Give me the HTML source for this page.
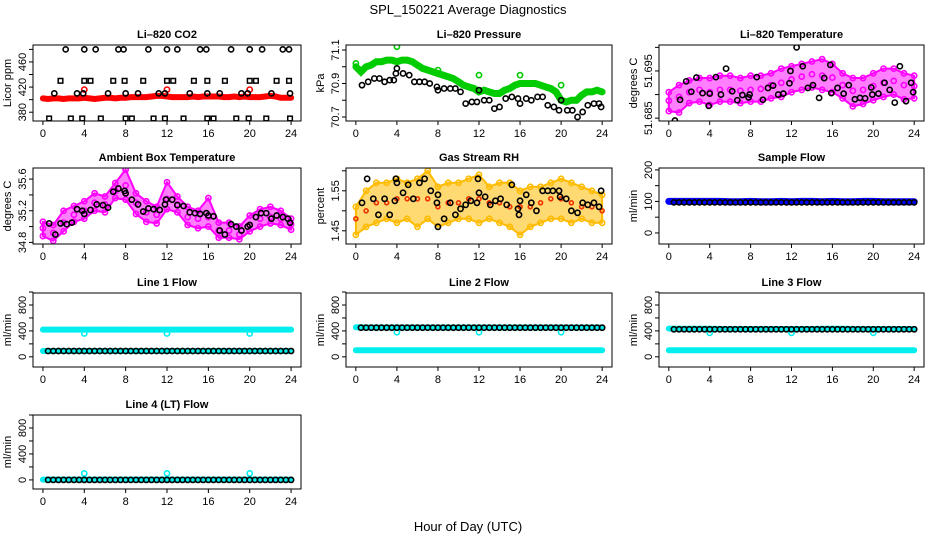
<!DOCTYPE html>
<html><head><meta charset="utf-8"><style>
html,body{margin:0;padding:0;background:#fff;}
svg{display:block;font-family:"Liberation Sans",Arial,sans-serif;}
</style></head><body>
<svg id="chart" width="936" height="540" viewBox="0 0 936 540" xmlns="http://www.w3.org/2000/svg">
<rect x="0" y="0" width="936" height="540" fill="#fff"/>
<text x="468" y="14" text-anchor="middle" font-size="13">SPL_150221  Average Diagnostics</text>
<text x="468" y="531" text-anchor="middle" font-size="13">Hour of Day (UTC)</text>
</svg>
<script>
// ---------- data ----------
const xTicks = [0,4,8,12,16,20,24];
const hours25 = [0,1,2,3,4,5,6,7,8,9,10,11,12,13,14,15,16,17,18,19,20,21,22,23,24];
const half49 = [0,0.5,1,1.5,2,2.5,3,3.5,4,4.5,5,5.5,6,6.5,7,7.5,8,8.5,9,9.5,10,10.5,11,11.5,12,12.5,13,13.5,14,14.5,15,15.5,16,16.5,17,17.5,18,18.5,19,19.5,20,20.5,21,21.5,22,22.5,23,23.5,24];
const half48 = [0.5,1,1.5,2,2.5,3,3.5,4,4.5,5,5.5,6,6.5,7,7.5,8,8.5,9,9.5,10,10.5,11,11.5,12,12.5,13,13.5,14,14.5,15,15.5,16,16.5,17,17.5,18,18.5,19,19.5,20,20.5,21,21.5,22,22.5,23,23.5,24];
const outT = [4,12,20];

// CO2
const co2Red = [402,401,402,402,401,402,402,402,403,402,401,402,403,403,402,403,403,404,404,404,404,405,406,406,405,404,404,404,404,405,404,405,405,405,405,404,404,405,404,405,404,404,404,405,406,405,403,403,403];
const co2RedOut = [416,416,416];
const co2HiT = [2.2,4,5.1,7.3,7.8,10.2,12,13,15.2,15.8,18.2,20,21.2,23.2,23.8];
const co2Hi = [480,480,480,480,480,480,480,480,480,480,480,480,480,480,480];
const co2SqT = [1.7,4,4.6,6.8,7.9,9.7,12,12.6,14.6,15.9,17.6,20,20.6,22.6,23.8];
const co2Sq = [430,430,430,430,430,430,430,430,430,430,430,430,430,430,430];
const co2MidT = [1.1,3.3,3.9,6.3,8,9.2,11.2,11.8,14.2,15.9,17.1,19.2,19.8,22.1,23.9];
const co2Mid = [410,410,410,410,410,410,410,410,410,410,410,410,410,410,410];
const co2LoT = [0.6,2.7,3.8,5.6,8,8.6,10.7,11.8,13.6,15.9,16.5,18.7,19.9,21.6,23.9];
const co2Lo = [370,370,370,370,370,370,370,370,370,370,370,370,370,370,370];

// Pressure
const presGreen = [71.0,70.97,71.0,71.01,71.03,71.03,71.04,71.04,71.03,71.04,71.04,71.03,71.01,70.99,70.98,70.97,70.96,70.95,70.94,70.93,70.91,70.89,70.88,70.87,70.85,70.86,70.85,70.84,70.84,70.86,70.87,70.89,70.9,70.9,70.9,70.9,70.89,70.88,70.87,70.85,70.8,70.79,70.8,70.8,70.83,70.85,70.85,70.86,70.85];
const presGreenOutT = [0,4,8,12,16,20];
const presGreenOut = [71.02,71.12,70.98,70.95,70.95,70.89];
const presBlackT = [0.6,1.2,1.8,2.3,2.8,3.3,3.7,3.9,4,4.6,5.2,5.7,6.2,6.7,7.2,7.9,8,8.6,9.2,9.7,10.2,10.7,11.3,11.8,12,12.5,13,13.5,14,14.6,15.2,15.8,16,16.6,17.1,17.7,18.2,18.7,19.3,19.8,20,20.6,21.1,21.6,22.1,22.6,23.2,23.7,23.9];
const presBlack = [70.89,70.91,70.93,70.93,70.91,70.92,70.92,70.96,70.99,70.96,70.95,70.91,70.91,70.91,70.9,70.88,70.86,70.87,70.87,70.87,70.85,70.78,70.79,70.79,70.86,70.8,70.8,70.75,70.76,70.81,70.82,70.81,70.78,70.81,70.8,70.82,70.82,70.77,70.76,70.74,70.8,70.74,70.74,70.7,70.73,70.77,70.78,70.78,70.76];

// Li-820 temperature
const tempMid = [51.6887,51.6895,51.6905,51.691,51.6905,51.691,51.691,51.6908,51.691,51.6912,51.692,51.6925,51.6932,51.6938,51.6943,51.694,51.6936,51.692,51.6908,51.691,51.6918,51.6925,51.6929,51.692,51.6918];
const tempHi = [51.6905,51.692,51.693,51.6935,51.6935,51.694,51.694,51.6935,51.694,51.694,51.6945,51.6955,51.696,51.6965,51.697,51.6975,51.6965,51.6945,51.6935,51.6935,51.6945,51.6955,51.6955,51.6945,51.694];
const tempLo = [51.6865,51.6862,51.6882,51.6885,51.6878,51.6885,51.6885,51.6882,51.6885,51.6885,51.6892,51.6895,51.6905,51.691,51.6915,51.691,51.6905,51.6892,51.6875,51.688,51.6888,51.6895,51.69,51.689,51.6892];
const tempBlackT = [0.6,1.1,1.7,2.2,2.7,3.3,3.9,4,4.6,5.1,5.6,6.2,6.7,7.2,7.8,7.9,8.6,9.2,9.7,10.2,10.7,11.2,11.8,11.9,12.5,13.1,13.6,14.1,14.7,15.2,15.8,15.9,16.5,17.1,17.6,18.2,18.7,19.2,19.8,19.9,20.5,21.1,21.6,22.1,22.6,23.2,23.7,23.9];
const tempBlack = [51.6845,51.6889,51.6928,51.6906,51.6936,51.6903,51.6876,51.6902,51.6937,51.6900,51.6955,51.6907,51.6888,51.6899,51.6894,51.6900,51.6937,51.6889,51.6914,51.6919,51.6900,51.6902,51.6924,51.6950,51.7,51.6960,51.6914,51.6920,51.6893,51.6935,51.6963,51.6903,51.6914,51.6902,51.6920,51.6890,51.6893,51.6892,51.6915,51.6900,51.6902,51.6925,51.6910,51.6883,51.6960,51.6886,51.6925,51.6905];

// Ambient box temperature
const ambMid = [34.98,34.92,35.05,35.15,35.2,35.3,35.28,35.45,35.52,35.3,35.18,35.15,35.35,35.28,35.12,35.1,35.12,34.95,34.95,34.9,35.02,35.1,35.12,35.1,35.03];
const ambHi = [35.06,35.02,35.2,35.26,35.32,35.42,35.38,35.55,35.72,35.42,35.32,35.25,35.56,35.38,35.25,35.2,35.36,35.05,35.05,35.0,35.14,35.22,35.25,35.2,35.1];
const ambLo = [34.88,34.82,34.94,35.06,35.1,35.2,35.18,35.36,35.34,35.16,35.06,35.04,35.22,35.18,35.02,34.98,35.0,34.86,34.86,34.84,34.94,35.0,35.04,35.02,34.96];
const ambBlackT = [0.6,1.2,1.7,2.3,2.8,3.3,3.8,4,4.6,5.2,5.8,6.3,6.8,7.3,7.9,8,8.6,9.2,9.7,10.2,10.7,11.3,11.8,11.9,12.5,13,13.6,14.2,14.7,15.2,15.8,16,16.5,17.1,17.6,18.2,18.7,19.2,19.8,20,20.6,21.1,21.6,22.1,22.6,23.2,23.7,23.9];
const ambBlack = [35.04,34.9,35.04,35.03,35.05,35.22,35.2,35.16,35.21,35.28,35.27,35.24,35.44,35.48,35.45,35.42,35.34,35.28,35.19,35.23,35.22,35.21,35.28,35.34,35.34,35.27,35.26,35.18,35.17,35.16,35.17,35.14,35.13,34.95,34.9,35.03,35.0,34.95,35.0,35.02,35.12,35.17,35.17,35.1,35.14,35.12,35.1,35.05];

// Gas stream RH
const rhMid = [1.48,1.5,1.52,1.52,1.53,1.53,1.53,1.53,1.51,1.52,1.52,1.53,1.53,1.52,1.52,1.51,1.51,1.51,1.52,1.53,1.53,1.52,1.51,1.51,1.5];
const rhHi = [1.51,1.55,1.57,1.57,1.58,1.57,1.58,1.6,1.56,1.57,1.57,1.58,1.59,1.56,1.57,1.57,1.55,1.56,1.56,1.57,1.58,1.57,1.56,1.55,1.54];
const rhLo = [1.44,1.46,1.47,1.48,1.47,1.48,1.46,1.48,1.46,1.47,1.48,1.48,1.47,1.48,1.47,1.46,1.44,1.46,1.47,1.48,1.48,1.47,1.48,1.47,1.47];
const rhBlackT = [0.6,1.1,1.7,2.2,2.8,3.3,3.8,3.9,4,4.6,5.1,5.6,6.2,6.7,7.3,7.9,8,8,8.6,9.2,9.7,10.2,10.7,11.2,11.8,11.9,12,12.6,13.1,13.6,14.1,14.7,15.2,15.8,15.9,16,16.6,17.1,17.6,18.2,18.7,19.2,19.8,19.9,20.5,21,21.6,22.1,22.6,23.2,23.7,23.9];
const rhBlack = [1.52,1.58,1.53,1.49,1.53,1.49,1.525,1.58,1.57,1.545,1.565,1.53,1.57,1.58,1.55,1.52,1.54,1.46,1.48,1.52,1.49,1.505,1.515,1.525,1.52,1.58,1.545,1.535,1.515,1.525,1.53,1.515,1.565,1.505,1.49,1.525,1.54,1.52,1.5,1.55,1.55,1.55,1.55,1.535,1.53,1.5,1.495,1.52,1.515,1.52,1.51,1.55];

// Sample flow
const sampleBlue = [100,100,100,100,100,100,99,99,100,99,99,100,99,100,100,99,100,99,99,100,100,99,99,99,99];
const sampleBlack = [97,97,97,97,97,97,97,97,97,97,97,97,97,97,97,97,97,97,97,97,97,97,97,97,97,97,97,97,97,97,97,97,97,97,97,97,97,97,97,97,97,97,97,97,97,97,97,97];

// Line flows
const l1CyanHi = [420,420,420,420,420,420,420,420,420,420,420,420,420,420,420,420,420,420,420,420,420,420,420,420,420];
const l1CyanLo = [90,90,90,90,90,90,90,90,90,90,90,90,90,90,90,90,90,90,90,90,90,90,90,90,90];
const l1Black = [90,90,90,90,90,90,90,90,90,90,90,90,90,90,90,90,90,90,90,90,90,90,90,90,90,90,90,90,90,90,90,90,90,90,90,90,90,90,90,90,90,90,90,90,90,90,90,90];
const l1Out = [360,360,360];
const l2CyanHi = [455,452,452,452,452,452,452,452,452,452,452,452,452,452,452,452,452,452,452,452,452,452,452,452,452];
const l2CyanLo = [100,100,100,100,100,100,100,100,100,100,100,100,100,100,100,100,100,100,100,100,100,100,100,100,100];
const l2Black = [450,450,450,450,450,450,450,450,450,450,450,450,450,450,450,450,450,450,450,450,450,450,450,450,450,450,450,450,450,450,450,450,450,450,450,450,450,450,450,450,450,450,450,450,450,450,450,450];
const l2Out = [380,380,380];
const l3CyanHi = [435,432,432,432,432,430,430,430,430,430,430,430,430,430,430,432,432,432,430,430,430,430,430,430,430];
const l3CyanLo = [100,100,100,100,100,100,100,100,100,100,100,100,100,100,100,100,100,100,100,100,100,100,100,100,100];
const l3Black = [425,425,425,425,425,425,425,425,425,425,425,425,425,425,425,425,425,425,425,425,425,425,425,425,425,425,425,425,425,425,425,425,425,425,425,425,425,425,425,425,425,425,425,425,425,425,425,425];
const l3Out = [370,370,370];
const l4Cyan = [5,5,5,5,5,5,5,5,5,5,5,5,5,5,5,5,5,5,5,5,5,5,5,5,5];
const l4Black = [0,0,0,0,0,0,0,0,0,0,0,0,0,0,0,0,0,0,0,0,0,0,0,0,0,0,0,0,0,0,0,0,0,0,0,0,0,0,0,0,0,0,0,0,0,0,0,0];
const l4Out = [100,100,100];

// ---------- drawing ----------
const NS = "http://www.w3.org/2000/svg";
const svg = document.getElementById('chart');
function mk(tag, attrs, parent){
  const e = document.createElementNS(NS, tag);
  for (const k in attrs) e.setAttribute(k, attrs[k]);
  (parent || svg).appendChild(e);
  return e;
}
const colL = [33, 346, 659];
const colW = [268, 266, 265];
const rowT = [45, 168, 293, 415];
const rowH = [76, 76, 74, 74];

function panel(cfg){
  const L = colL[cfg.col], W = colW[cfg.col], T = rowT[cfg.row], H = rowH[cfg.row];
  const g = mk('g', {});
  
  
  const sx = t => L + (t + 0.96) / 25.92 * W;
  const sy = v => T + H - (v - cfg.ylim[0]) / (cfg.ylim[1] - cfg.ylim[0]) * H;
  const clip = 'clip-' + cfg.name;
  const cp = mk('clipPath', {id: clip}, g);
  mk('rect', {x: L, y: T, width: W, height: H}, cp);
  const plot = mk('g', {'clip-path': 'url(#' + clip + ')'}, g);
  
  
  cfg.series.forEach(s => {
    if (s.type === 'band') {
      let d = 'M';
      s.t.forEach((t, i) => { d += sx(t).toFixed(1) + ',' + sy(s.hi[i]).toFixed(1) + ' L'; });
      for (let i = s.t.length - 1; i >= 0; i--) d += sx(s.t[i]).toFixed(1) + ',' + sy(s.lo[i]).toFixed(1) + (i ? ' L' : ' Z');
      const p = mk('path', {d: d, fill: s.color, 'fill-opacity': s.op || 0.5, stroke: s.color, 'stroke-width': 2, 'stroke-linejoin': 'round'}, plot);
      
      
      if (s.dots) {
        s.t.forEach((t, i) => {
          [s.hi[i], s.lo[i]].forEach(v => {
            const c = mk('circle', {cx: sx(t), cy: sy(v), r: 2.6, fill: 'none', stroke: s.color, 'stroke-width': 1.6}, plot);
            
            
          });
        });
      }
    } else if (s.type === 'thick') {
      const pts = s.t.map((t, i) => sx(t).toFixed(1) + ',' + sy(s.v[i]).toFixed(1)).join(' ');
      const p = mk('polyline', {points: pts, fill: 'none', stroke: s.color, 'stroke-width': s.w || 6, 'stroke-linecap': 'round'}, plot);
      
      
    } else {
      const r = s.r || 2.6;
      s.t.forEach((t, i) => {
        let e;
        if (s.shape === 'square') e = mk('rect', {x: sx(t) - r, y: sy(s.v[i]) - r, width: 2 * r, height: 2 * r, fill: 'none', stroke: s.color, 'stroke-width': 1.5}, plot);
        else e = mk('circle', {cx: sx(t), cy: sy(s.v[i]), r: r, fill: 'none', stroke: s.color, 'stroke-width': s.sw || 1.6}, plot);
        
        
      });
    }
  });
  const box = mk('rect', {x: L, y: T, width: W, height: H, fill: 'none', stroke: '#000', 'stroke-width': 1}, g);
  
  
  const xa = mk('g', {}, g);
  
  
  mk('line', {x1: sx(0), x2: sx(24), y1: T + H, y2: T + H, stroke: '#000'}, xa);
  xTicks.forEach(t => {
    mk('line', {x1: sx(t), x2: sx(t), y1: T + H, y2: T + H + 4, stroke: '#000'}, xa);
    const tx = mk('text', {x: sx(t), y: T + H + 16, 'text-anchor': 'middle', 'font-size': 11}, xa);
    tx.textContent = t;
    
    
  });
  const ya = mk('g', {}, g);
  
  
  const ticks = cfg.yticks;
  mk('line', {x1: L, x2: L, y1: sy(ticks[0]), y2: sy(ticks[ticks.length - 1]), stroke: '#000'}, ya);
  ticks.forEach((v, i) => {
    mk('line', {x1: L - 4, x2: L, y1: sy(v), y2: sy(v), stroke: '#000'}, ya);
    const lab = cfg.ylabels[i];
    if (lab !== '') {
      const tx = mk('text', {x: L - 7, y: sy(v), 'text-anchor': 'middle', 'font-size': 11, transform: 'rotate(-90 ' + (L - 7) + ' ' + sy(v) + ')'}, ya);
      tx.textContent = lab;
      
      
    }
  });
  const yt = mk('text', {x: L - 22, y: T + H / 2, 'text-anchor': 'middle', 'font-size': 11, transform: 'rotate(-90 ' + (L - 22) + ' ' + (T + H / 2) + ')'}, g);
  yt.textContent = cfg.ytitle;
  
  
  const tt = mk('text', {x: L + W / 2, y: T - 7, 'text-anchor': 'middle', 'font-size': 11, 'font-weight': 'bold'}, g);
  tt.textContent = cfg.title;
  
  
}

const flowTicks = [0,200,400,600,800,1000];
const flowLabels = ['0','','400','','800',''];

panel({name:'co2', title:'Li\u2013820 CO2', ytitle:'Licor ppm', col:0, row:0, ylim:[366,487],
  yticks:[380,400,420,440,460,480], ylabels:['380','','420','','460',''],
  series:[
    {name:'co2-red', t:half49, v:co2Red, color:'#ff0000', type:'thick', w:6},
    {name:'co2-red-outlier', t:outT, v:co2RedOut, color:'#ff0000'},
    {name:'co2-black-high', t:co2HiT, v:co2Hi, color:'#000'},
    {name:'co2-black-square', t:co2SqT, v:co2Sq, color:'#000', shape:'square', r:2.3},
    {name:'co2-black-mid', t:co2MidT, v:co2Mid, color:'#000'},
    {name:'co2-black-low', t:co2LoT, v:co2Lo, color:'#000', shape:'square', r:2.3}
  ]});
panel({name:'pressure', title:'Li\u2013820 Pressure', ytitle:'kPa', col:1, row:0, ylim:[70.676,71.13],
  yticks:[70.7,70.8,70.9,71.0,71.1], ylabels:['70.7','','70.9','','71.1'],
  series:[
    {name:'pressure-green', t:half49, v:presGreen, color:'#00cc00', type:'thick', w:7},
    {name:'pressure-green-outlier', t:presGreenOutT, v:presGreenOut, color:'#00cc00'},
    {name:'pressure-black', t:presBlackT, v:presBlack, color:'#000'}
  ]});
panel({name:'li820-temp', title:'Li\u2013820 Temperature', ytitle:'degrees C', col:2, row:0, ylim:[51.6844,51.7005],
  yticks:[51.685,51.69,51.695,51.7], ylabels:['51.685','','51.695',''],
  series:[
    {name:'li820-temp-magenta', type:'band', t:hours25, hi:tempHi, lo:tempLo, color:'#ff00ff', dots:true},
    {name:'li820-temp-magenta-mid', t:hours25, v:tempMid, color:'#ff00ff'},
    {name:'li820-temp-black', t:tempBlackT, v:tempBlack, color:'#000'}
  ]});
panel({name:'ambient-temp', title:'Ambient Box Temperature', ytitle:'degrees C', col:0, row:1, ylim:[34.78,35.74],
  yticks:[34.8,35.0,35.2,35.4,35.6], ylabels:['34.8','','35.2','','35.6'],
  series:[
    {name:'ambient-temp-magenta', type:'band', t:hours25, hi:ambHi, lo:ambLo, color:'#ff00ff', dots:true},
    {name:'ambient-temp-magenta-mid', t:hours25, v:ambMid, color:'#ff00ff'},
    {name:'ambient-temp-black', t:ambBlackT, v:ambBlack, color:'#000'}
  ]});
panel({name:'gas-rh', title:'Gas Stream RH', ytitle:'percent', col:1, row:1, ylim:[1.417,1.607],
  yticks:[1.45,1.5,1.55,1.6], ylabels:['1.45','','1.55',''],
  series:[
    {name:'gas-rh-orange', type:'band', t:hours25, hi:rhHi, lo:rhLo, color:'#ffbb00', dots:true, op:0.55},
    {name:'gas-rh-red-mid', t:hours25, v:rhMid, color:'#ee3300', r:2},
    {name:'gas-rh-black', t:rhBlackT, v:rhBlack, color:'#000'}
  ]});
panel({name:'sample-flow', title:'Sample Flow', ytitle:'ml/min', col:2, row:1, ylim:[-35,206],
  yticks:[0,50,100,150,200], ylabels:['0','','100','','200'],
  series:[
    {name:'sample-flow-blue', t:hours25, v:sampleBlue, color:'#0000ff', type:'thick', w:7},
    {name:'sample-flow-black', t:half48, v:sampleBlack, color:'#000'}
  ]});
panel({name:'line1-flow', title:'Line 1 Flow', ytitle:'ml/min', col:0, row:2, ylim:[-157,985],
  yticks:flowTicks, ylabels:flowLabels,
  series:[
    {name:'line1-cyan-high', t:hours25, v:l1CyanHi, color:'#00eeee', type:'thick', w:6},
    {name:'line1-cyan-low', t:hours25, v:l1CyanLo, color:'#00eeee', type:'thick', w:6},
    {name:'line1-cyan-outlier', t:outT, v:l1Out, color:'#00eeee'},
    {name:'line1-black', t:half48, v:l1Black, color:'#000'}
  ]});
panel({name:'line2-flow', title:'Line 2 Flow', ytitle:'ml/min', col:1, row:2, ylim:[-157,985],
  yticks:flowTicks, ylabels:flowLabels,
  series:[
    {name:'line2-cyan-high', t:hours25, v:l2CyanHi, color:'#00eeee', type:'thick', w:6},
    {name:'line2-cyan-low', t:hours25, v:l2CyanLo, color:'#00eeee', type:'thick', w:6},
    {name:'line2-cyan-outlier', t:outT, v:l2Out, color:'#00eeee'},
    {name:'line2-black', t:half48, v:l2Black, color:'#000'}
  ]});
panel({name:'line3-flow', title:'Line 3 Flow', ytitle:'ml/min', col:2, row:2, ylim:[-157,985],
  yticks:flowTicks, ylabels:flowLabels,
  series:[
    {name:'line3-cyan-high', t:hours25, v:l3CyanHi, color:'#00eeee', type:'thick', w:6},
    {name:'line3-cyan-low', t:hours25, v:l3CyanLo, color:'#00eeee', type:'thick', w:6},
    {name:'line3-cyan-outlier', t:outT, v:l3Out, color:'#00eeee'},
    {name:'line3-black', t:half48, v:l3Black, color:'#000'}
  ]});
panel({name:'line4-flow', title:'Line 4 (LT) Flow', ytitle:'ml/min', col:0, row:3, ylim:[-140,1000],
  yticks:flowTicks, ylabels:flowLabels,
  series:[
    {name:'line4-cyan', t:hours25, v:l4Cyan, color:'#00eeee', type:'thick', w:6},
    {name:'line4-cyan-outlier', t:outT, v:l4Out, color:'#00eeee'},
    {name:'line4-black', t:half48, v:l4Black, color:'#000'}
  ]});
</script>
</body></html>
